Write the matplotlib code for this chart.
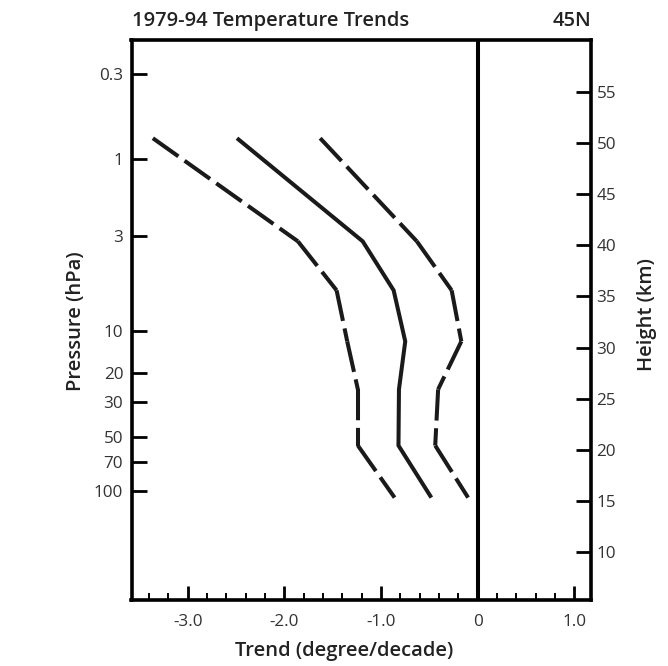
import matplotlib
matplotlib.use("Agg")
import matplotlib.pyplot as plt
import numpy as np

# ---- data ----
heights_km = [50.5, 40.4, 35.6, 30.6, 25.9, 20.4, 15.3]
trend_mean = [-2.49, -1.19, -0.87, -0.75, -0.815, -0.82, -0.48]
trend_low = [-3.36, -1.86, -1.46, -1.35, -1.24, -1.24, -0.86]
trend_high = [-1.63, -0.63, -0.27, -0.17, -0.41, -0.44, -0.10]

pressure_ticks = [0.3, 1, 3, 10, 20, 30, 50, 70, 100]
pressure_tick_heights = [56.8, 48.5, 40.9, 31.6, 27.5, 24.7, 21.2, 18.75, 15.9]
height_ticks = [10, 15, 20, 25, 30, 35, 40, 45, 50, 55]
x_major = [-3.0, -2.0, -1.0, 0.0, 1.0]
x_major_labels = ["-3.0", "-2.0", "-1.0", "0", "1.0"]

plt.rcParams['font.family'] = ['Open Sans', 'DejaVu Sans']
plt.rcParams['lines.scale_dashes'] = False

fig = plt.figure(figsize=(6.68, 6.66), dpi=100)
ax = fig.add_axes([131.5/668, 1-600/666, (591-131.5)/668, (600-40)/666])

ink = '#1a1a1a'
lw = 2.9

# solid mean curve
ax.plot(trend_mean, heights_km, color=ink, lw=lw, solid_joinstyle='miter',
        solid_capstyle='butt')
# dashed curves: dash pattern restarts at every segment, as in the original
for xs in (trend_low, trend_high):
    for i in range(len(xs) - 1):
        ax.plot(xs[i:i+2], heights_km[i:i+2], color=ink, lw=lw,
                dashes=(22.5, 5.5), dash_capstyle='butt')

ax.axvline(0, color='black', lw=2.9)

ax.set_xlim(-3.581, 1.171)
ax.set_ylim(5.27, 60.12)

for s in ax.spines.values():
    s.set_linewidth(2.6)
    s.set_color('black')

ax.set_xticks(x_major)
ax.set_xticklabels(x_major_labels)
ax.set_xticks(np.arange(-3.4, 1.1, 0.2), minor=True)
ax.tick_params(axis='x', which='major', direction='in', length=10, width=2.0,
               labelsize=12.3, labelcolor='#333333', pad=10, top=False)
ax.tick_params(axis='x', which='minor', direction='in', length=5, width=1.4, top=False)

ax.set_yticks(pressure_tick_heights)
ax.set_yticklabels([f"{p:g}" for p in pressure_ticks])
ax.tick_params(axis='y', which='major', direction='in', length=11, width=2.0,
               labelsize=12.3, labelcolor='#333333', pad=6, right=False)

ax2 = ax.twinx()
ax2.set_ylim(ax.get_ylim())
ax2.set_yticks(height_ticks)
ax2.set_yticklabels([str(h) for h in height_ticks])
ax2.tick_params(axis='y', direction='in', length=11, width=2.0,
                labelsize=12.3, labelcolor='#333333', pad=4)
for s in ax2.spines.values():
    s.set_visible(False)

lab = dict(fontsize=14.5, fontweight='semibold', color='#222222')
ax.set_xlabel("Trend (degree/decade)", **lab)
ax.xaxis.set_label_coords(0.4625, -0.073)
ax.set_ylabel("Pressure (hPa)", **lab)
ax.yaxis.set_label_coords(-0.099, 0.497)
ax2.set_ylabel("Height (km)", **lab)
ax2.yaxis.set_label_coords(1.10, 0.509)

ax.set_title("1979-94 Temperature Trends", loc='left', pad=10, **lab)
ax.set_title("45N", loc='right', pad=10, **lab)

fig.savefig("out.png", dpi=100)
